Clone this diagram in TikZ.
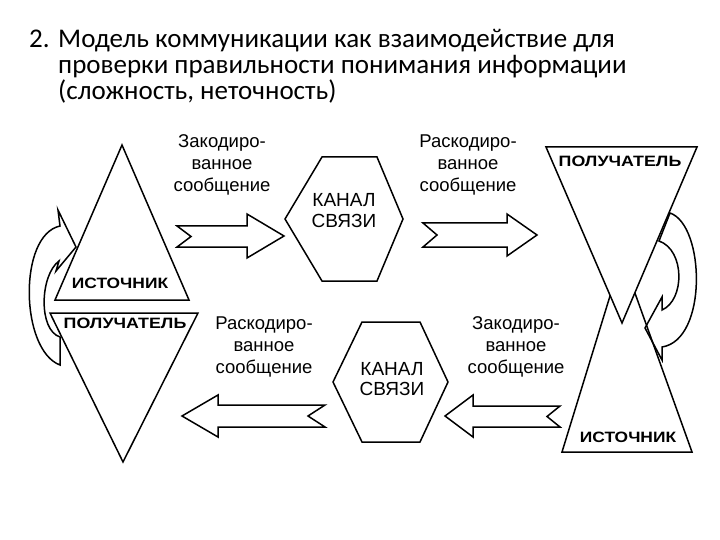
\documentclass[tikz,border=0pt]{standalone}
\usepackage{fontspec}
\setmainfont{Liberation Sans}
\newfontfamily\titlefont{Carlito}
\begin{document}
\begin{tikzpicture}[x=1pt,y=-1pt,
  shp/.style={draw=black, line width=1.5pt, fill=white, line join=miter, miter limit=20},
  turn/.style={draw=black, line width=1.5pt, fill=none, line join=miter, miter limit=20},
  ttl/.style={anchor=base west, inner sep=0pt, font=\titlefont\fontsize{27}{30}\selectfont},
  lbl/.style={anchor=base, inner sep=0pt, font=\fontsize{18.5}{22}\selectfont},
  capt/.style={anchor=base, inner sep=0pt, font=\bfseries\fontsize{15}{18}\selectfont},
  chan/.style={anchor=base, inner sep=0pt, font=\fontsize{19}{22}\selectfont}]
\useasboundingbox (0,0) rectangle (720,540);
% title
\node[ttl] (t1) at (29,48) {\makebox[29pt][l]{2.}Модель коммуникации как взаимодействие для};
\node[ttl] (t2) at (58,74) {проверки правильности понимания информации};
\node[ttl] (t3) at (58,100) {(сложность, неточность)};
% left diamond
\draw[shp] (122,145) -- (189,300) -- (55,300) -- cycle;
\draw[shp] (50,313) -- (198,313) -- (123,462) -- cycle;
\node[capt] (srcL) at (120,288) {\scalebox{1.16}[1]{ИСТОЧНИК}};
\node[capt] (rcvL) at (125,328) {\scalebox{1.19}[1]{ПОЛУЧАТЕЛЬ}};
% left curved arrow
\draw[turn] (60,365) .. controls (20,350) and (18,235) .. (60,226) -- (58,210) -- (76,247) -- (56,271) -- (59,261) .. controls (40,275) and (38,330) .. (60,337) -- cycle;
% right shapes
\draw[shp] (562,452) -- (622,257) -- (692,452) -- cycle;
\draw[shp] (546,147) -- (697,147) -- (622,323) -- cycle;
\node[capt] (rcvR) at (620,167) {\scalebox{1.19}[1]{ПОЛУЧАТЕЛЬ}};
\node[capt] (srcR) at (628,442) {\scalebox{1.16}[1]{ИСТОЧНИК}};
% right curved arrow
\draw[turn] (670,213) .. controls (705,225) and (708,340) .. (662,347) -- (662,360) -- (645,328) -- (662,297) -- (662,310) .. controls (685,300) and (685,250) .. (659,241) -- cycle;
% hexagons
\draw[shp] (285,219) -- (322,157) -- (377,157) -- (403,219) -- (377,281) -- (322,281) -- cycle;
\node[chan] (ch1a) at (344,207) {КАНАЛ};
\node[chan] (ch1b) at (344,228) {СВЯЗИ};
\draw[shp] (333,382) -- (362,322) -- (420,322) -- (448,382) -- (420,442) -- (362,442) -- cycle;
\node[chan] (ch2a) at (392,375) {КАНАЛ};
\node[chan] (ch2b) at (392,395) {СВЯЗИ};
% block arrows
\draw[shp] (177,226) -- (247,226) -- (247,214) -- (284,236) -- (247,258) -- (247,247) -- (177,247) -- (191,236.5) -- cycle;
\draw[shp] (423,223) -- (507,223) -- (507,214) -- (537,235) -- (507,256) -- (507,247) -- (423,247) -- (437,235) -- cycle;
\draw[shp] (325,405) -- (218,405) -- (218,395) -- (182,416) -- (218,437) -- (218,427) -- (325,427) -- (308,416) -- cycle;
\draw[shp] (560,406) -- (473,406) -- (473,395) -- (445,416) -- (473,437) -- (473,427) -- (560,427) -- (547,416.5) -- cycle;
% labels
\node[lbl] (l1a) at (222,148) {Закодиро-};
\node[lbl] (l1b) at (222,170) {ванное};
\node[lbl] (l1c) at (222,192) {сообщение};
\node[lbl] (l2a) at (468,148) {Раскодиро-};
\node[lbl] (l2b) at (468,170) {ванное};
\node[lbl] (l2c) at (468,192) {сообщение};
\node[lbl] (l3a) at (264,329) {Раскодиро-};
\node[lbl] (l3b) at (264,351) {ванное};
\node[lbl] (l3c) at (264,373) {сообщение};
\node[lbl] (l4a) at (516,329) {Закодиро-};
\node[lbl] (l4b) at (516,351) {ванное};
\node[lbl] (l4c) at (516,373) {сообщение};
\end{tikzpicture}
\end{document}
